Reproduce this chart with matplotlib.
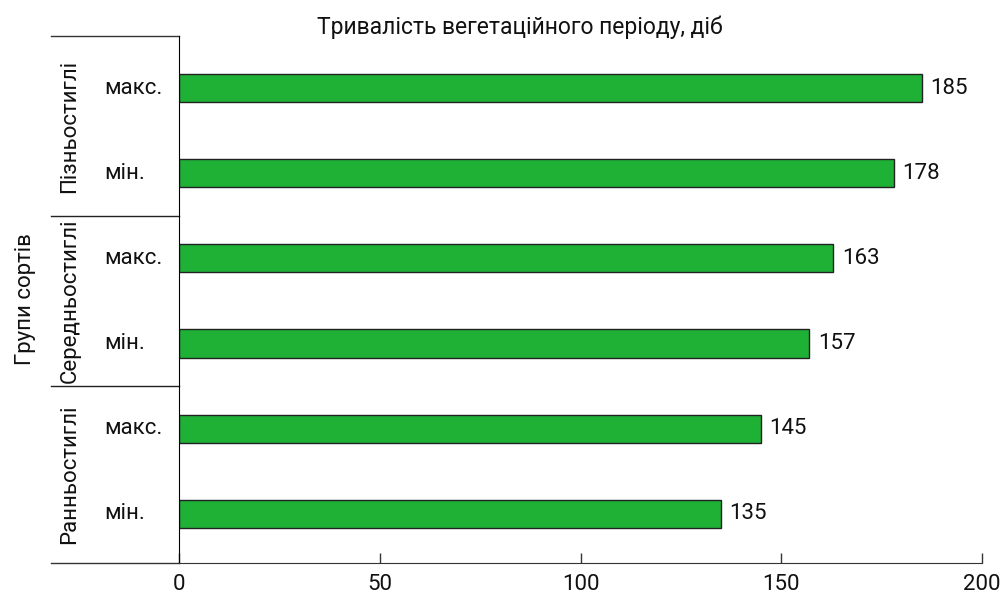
import matplotlib.pyplot as plt
import numpy as np

plt.rcParams['font.family'] = ['Roboto', 'DejaVu Sans']

# data, bottom to top
groups = ['Ранньостиглі', 'Середньостиглі', 'Пізньостиглі']
sub_labels = ['мін.', 'макс.', 'мін.', 'макс.', 'мін.', 'макс.']
values = [135, 145, 157, 163, 178, 185]
x_ticks = [0, 50, 100, 150, 200]
title = 'Тривалість вегетаційного періоду, діб'
ylabel = 'Групи сортів'

bar_color = '#1EB136'
fs = 16

fig = plt.figure(figsize=(10.06, 5.96), dpi=100)
ax = fig.add_axes([179 / 1006, 1 - 563 / 596, 803 / 1006, 527 / 596])

y = np.arange(len(values))
ax.barh(y, values, height=0.33, color=bar_color, edgecolor='#222222', linewidth=1)
for yi, v in zip(y, values):
    ax.annotate(str(v), (v, yi), xytext=(6, 0), textcoords='offset points',
                va='center', ha='left', fontsize=fs, color='#111111')

ax.set_xlim(0, 200)
ax.set_ylim(-0.58, 5.615)
ax.set_xticks(x_ticks)
ax.set_yticks([])
ax.tick_params(axis='x', direction='in', length=7, width=1, color='#333333',
               labelsize=fs, pad=8, labelcolor='#111111')

for s in ['top', 'right']:
    ax.spines[s].set_visible(False)
ax.spines['left'].set_color('black')
ax.spines['bottom'].set_color('#333333')

# lines of the category table on the left
left = -128 / 803
tr = ax.get_yaxis_transform()
ax.plot([left, 0], [0, 0], transform=ax.transAxes, color='#333333', lw=1, clip_on=False)
ax.plot([left, 0], [1, 1], transform=ax.transAxes, color='#333333', lw=1, clip_on=False)
for sep in [1.5, 3.5]:
    ax.plot([left, 0], [sep, sep], transform=tr, color='#222222', lw=1, clip_on=False)

# sub labels
for yi, lab in zip(y, sub_labels):
    ax.text(-75 / 803, yi, lab, transform=tr, ha='left', va='center',
            fontsize=fs, color='#111111')

# group labels, centred in each group span
spans = [(-0.58, 1.5), (1.5, 3.5), (3.5, 5.615)]
for g, (a, b) in zip(groups, spans):
    ax.text(-109 / 803, (a + b) / 2, g, transform=tr, rotation=90,
            ha='center', va='center', fontsize=fs, color='#111111')

ax.text(-154 / 803, 0.5, ylabel, transform=ax.transAxes, rotation=90,
        ha='center', va='center', fontsize=fs, color='#111111')

fig.text(520 / 1006, 1 - 27 / 596, title, ha='center', va='center',
         fontsize=16.5, color='#111111')

fig.savefig('out.png', dpi=100)
